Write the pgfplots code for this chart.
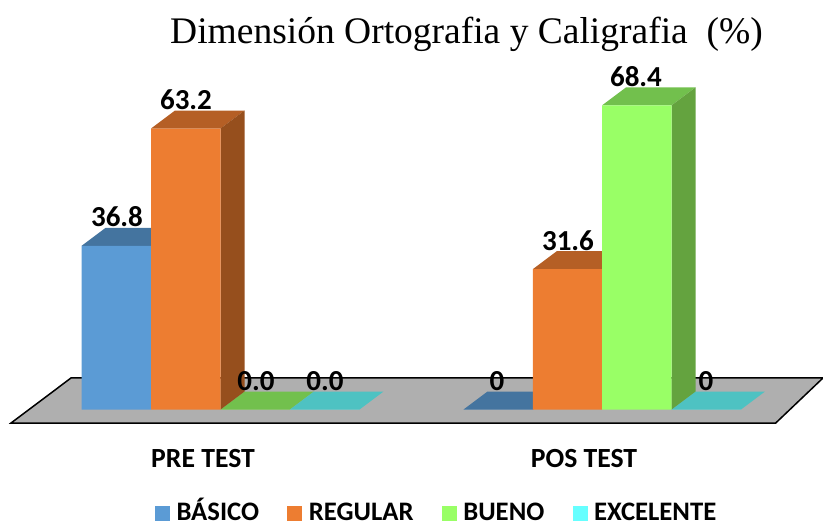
\documentclass[border=0pt]{standalone}
\usepackage{fontspec}
\usepackage{pgfplots}
\pgfplotsset{compat=1.18}
\setmainfont{Carlito}
\newfontfamily\titlefont{Liberation Serif}
\definecolor{cBlue}{HTML}{5B9BD5}
\definecolor{cBlueTop}{HTML}{44749F}
\definecolor{cOrange}{HTML}{ED7D31}
\definecolor{cOrangeTop}{HTML}{B55F25}
\definecolor{cOrangeSide}{HTML}{964F1D}
\definecolor{cGreen}{HTML}{99FF66}
\definecolor{cGreenTop}{HTML}{72C04D}
\definecolor{cGreenSide}{HTML}{64A33F}
\definecolor{cCyan}{HTML}{66FFFF}
\definecolor{cCyanTop}{HTML}{4EC2C2}
\definecolor{cFloor}{HTML}{AFAFAF}
\pgfplotsset{
  front/.style={ybar,bar width=69.5pt,bar shift=0pt,draw=none,fill=#1,
    legend image code/.code={\fill[#1] (0pt,-7.5pt) rectangle (15pt,7.5pt);}},
  face/.style={fill=#1,draw=none,forget plot,mark=none},
}
\tikzset{
  dl/.style={font=\fontsize{29}{29}\selectfont\bfseries,anchor=base,yshift=19pt,inner sep=0pt},
}
\begin{document}
\begin{tikzpicture}
\useasboundingbox (0,0) rectangle (823pt,522pt);
\begin{axis}[
  scale only axis,width=823pt,height=522pt,
  xmin=0,xmax=823,ymin=-25.30,ymax=92.11,
  hide axis,clip=false,
  legend columns=4,
  legend style={at={(axis cs:155,-23.3)},anchor=west,draw=none,fill=none,inner sep=0pt,outer sep=0pt,
    font=\fontsize{26.7}{26.7}\selectfont\bfseries,
    /tikz/every odd column/.append style={column sep=6.5pt},
    /tikz/every even column/.append style={column sep=28.3pt},
    nodes={inner sep=0pt,text height=16pt,text depth=2pt}},
  legend cell align=left,
]
% floor
\addplot[fill=cFloor,draw=black,line width=1.5pt,forget plot,mark=none] coordinates {(11,-3.04)(775.7,-3.04)(823,7.09)(71,7.09)} -- cycle;
% zero-height bars: top faces
\addplot[face=cGreenTop] coordinates {(220.5,0)(290,0)(314,4.05)(244.5,4.05)} -- cycle;
\addplot[face=cCyanTop] coordinates {(290,0)(359.5,0)(383.5,4.05)(314,4.05)} -- cycle;
\addplot[face=cBlueTop] coordinates {(463.5,0)(533,0)(557,4.05)(487.5,4.05)} -- cycle;
\addplot[face=cCyanTop] coordinates {(671.5,0)(741,0)(765,4.05)(695.5,4.05)} -- cycle;
% tops and sides
\addplot[face=cBlueTop] coordinates {(81.5,36.8)(151,36.8)(175,40.85)(105.5,40.85)} -- cycle;
\addplot[face=cOrangeTop] coordinates {(151,63.2)(220.5,63.2)(244.5,67.25)(175,67.25)} -- cycle;
\addplot[face=cOrangeSide] coordinates {(220.5,0)(244.5,4.05)(244.5,67.25)(220.5,63.2)} -- cycle;
\addplot[face=cOrangeTop] coordinates {(533,31.6)(602,31.6)(626,35.65)(557,35.65)} -- cycle;
\addplot[face=cGreenTop] coordinates {(602,68.4)(671.5,68.4)(695.5,72.45)(626,72.45)} -- cycle;
\addplot[face=cGreenSide] coordinates {(671.5,0)(695.5,4.05)(695.5,72.45)(671.5,68.4)} -- cycle;
% front faces
\addplot[front=cBlue] coordinates {(116.25,36.8)(498.25,0)};
\addlegendentry{BÁSICO}
\addplot[front=cOrange] coordinates {(185.75,63.2)(567.5,31.6)};
\addlegendentry{REGULAR}
\addplot[front=cGreen] coordinates {(255.25,0)(636.75,68.4)};
\addlegendentry{BUENO}
\addplot[front=cCyan] coordinates {(324.75,0)(706.25,0)};
\addlegendentry{EXCELENTE}
% data labels
\node[dl] at (axis cs:117,36.8) {36.8};
\node[dl] at (axis cs:186,63.2) {63.2};
\node[dl] at (axis cs:256,0) {0.0};
\node[dl] at (axis cs:325,0) {0.0};
\node[dl] at (axis cs:497,0) {0};
\node[dl] at (axis cs:568,31.6) {31.6};
\node[dl] at (axis cs:636,68.4) {68.4};
\node[dl] at (axis cs:706,0) {0};
% category labels
\node[font=\fontsize{27.7}{27.7}\selectfont\bfseries,anchor=base,inner sep=0pt] at (axis cs:203,-13.1) {PRE TEST};
\node[font=\fontsize{27.7}{27.7}\selectfont\bfseries,anchor=base,inner sep=0pt] at (axis cs:584,-13.1) {POS TEST};
% title
\node[font=\fontsize{37.5}{37.5}\selectfont\titlefont,anchor=base,inner sep=0pt] at (axis cs:466.5,82.4) {Dimensión Ortografia y Caligrafia\ \ (\%)};
\end{axis}
\end{tikzpicture}
\end{document}
